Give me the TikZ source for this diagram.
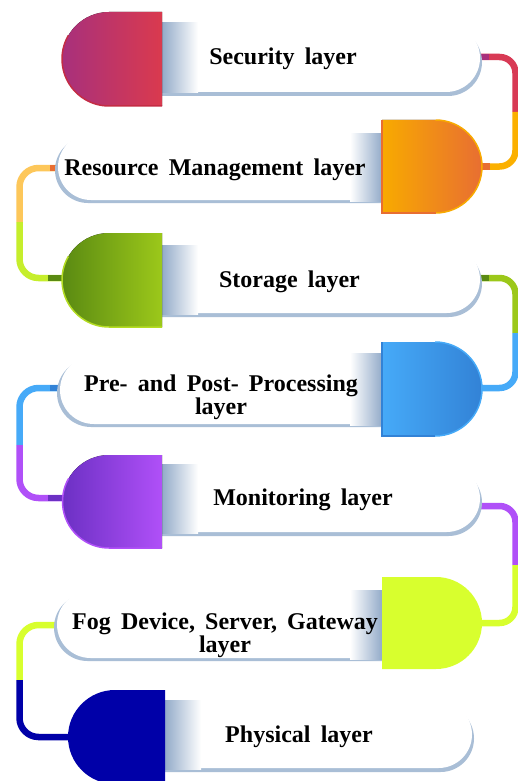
\documentclass[tikz,border=0pt]{standalone}
\usepackage{fontspec}
\setmainfont{Liberation Serif}[WordSpace=1.7]
\usepackage{tikz}

\definecolor{bandblue}{HTML}{93ABC9}
\definecolor{shadowblue}{HTML}{A9BED6}
\definecolor{secA}{HTML}{A8307C}
\definecolor{secB}{HTML}{DA3A4E}
\definecolor{secRim}{HTML}{C42C44}
\definecolor{secWire}{HTML}{D83A55}
\definecolor{resA}{HTML}{F8AA00}
\definecolor{resB}{HTML}{E86E32}
\definecolor{resWire}{HTML}{FBB000}
\definecolor{resLight}{HTML}{FDC75A}
\definecolor{stoA}{HTML}{5A8A12}
\definecolor{stoB}{HTML}{9CC81A}
\definecolor{stoRim}{HTML}{B4DC22}
\definecolor{stoWire}{HTML}{C6EE2C}
\definecolor{preA}{HTML}{46AAF8}
\definecolor{preB}{HTML}{3282D6}
\definecolor{monA}{HTML}{6C30C4}
\definecolor{monB}{HTML}{B050F8}
\definecolor{fogY}{HTML}{D8FF2E}
\definecolor{phyN}{HTML}{0000A8}

\tikzset{
  wire/.style={line width=6.5pt},
  rim/.style={line width=1.5pt},
  layertext/.style={font=\bfseries\fontsize{24}{20}\selectfont, inner sep=0pt, align=center},
}

\begin{document}
\begin{tikzpicture}[x=1pt,y=1pt]
    \useasboundingbox (0,0) rectangle (518,-781);
    \fill[white] (0,0) rectangle (518,-781);

    % ends of the pills and the caps
    \coordinate (sec-out) at (481,-57);
    \coordinate (res-in) at (482,-166.5);
    \coordinate (r12) at (515.5,-112);
    \coordinate (res-out) at (58,-168);
    \coordinate (sto-in) at (62,-278);
    \coordinate (l23) at (19.5,-222);
    \coordinate (sto-out) at (481,-278);
    \coordinate (pre-in) at (482,-388);
    \coordinate (r34) at (515.5,-333);
    \coordinate (pre-out) at (60,-388);
    \coordinate (mon-in) at (62,-498);
    \coordinate (l45) at (19.5,-445);
    \coordinate (mon-out) at (480,-506);
    \coordinate (fog-in) at (482,-623);
    \coordinate (r56) at (515.5,-565);
    \coordinate (fog-out) at (56,-625);
    \coordinate (phy-in) at (68,-737);
    \coordinate (l67) at (19.5,-680);

    % links between the layers
    \draw[wire, secWire, rounded corners=16] (sec-out) -| (r12);
    \draw[wire, resWire, rounded corners=16] (r12) |- (res-in);
    \draw[wire, secA] (sec-out) -- +(8,0);
    \draw[wire, resB] (res-in) -- +(8,0);
    \draw[wire, resLight, rounded corners=19] (res-out) -| (l23);
    \draw[wire, stoWire, rounded corners=19] (l23) |- (sto-in);
    \draw[wire, resB] (res-out) -- +(-8,0);
    \draw[wire, stoA] (sto-in) -- +(-14,0);
    \draw[wire, stoB, rounded corners=16] (sto-out) -| (r34);
    \draw[wire, preA, rounded corners=16] (r34) |- (pre-in);
    \draw[wire, stoA] (sto-out) -- +(8,0);
    \draw[wire, preA, rounded corners=19] (pre-out) -| (l45);
    \draw[wire, monB, rounded corners=19] (l45) |- (mon-in);
    \draw[wire, preB] (pre-out) -- +(-10,0);
    \draw[wire, monA] (mon-in) -- +(-14,0);
    \draw[wire, monB, rounded corners=16] (mon-out) -| (r56);
    \draw[wire, fogY, rounded corners=16] (r56) |- (fog-in);
    \draw[wire, fogY, rounded corners=19] (fog-out) -| (l67);
    \draw[wire, phyN, rounded corners=19] (l67) |- (phy-in);

    % security layer
    \fill[shadowblue] (152,-28) -- (448,-28) arc[start angle=90,end angle=-90,radius=34] -- (152,-96) -- cycle;
    \fill[white] (150,-24) -- (446,-24) arc[start angle=90,end angle=-90,radius=34] -- (150,-92) -- cycle;
    \shade[left color=bandblue, right color=white] (162,-23) rectangle (198,-93);
    \fill[left color=secA, right color=secB] (162,-12) -- (109,-12) arc[start angle=90,end angle=270,radius=47] -- (162,-106) -- cycle;
    \draw[rim, secRim] (109,-59) ++(150:47) arc[start angle=150,end angle=270,radius=47] -- (162,-106);
    \node[layertext, anchor=base] (sec) at (283,-65) {Security layer};

    % resource management layer
    \fill[shadowblue] (391,-137) -- (88,-137) arc[start angle=90,end angle=270,radius=33] -- (391,-203) -- cycle;
    \fill[white] (394,-134) -- (91,-134) arc[start angle=90,end angle=270,radius=33] -- (394,-200) -- cycle;
    \shade[left color=white, right color=bandblue] (350,-133) rectangle (382,-201);
    \fill[left color=resA, right color=resB] (382,-120) -- (435.5,-120) arc[start angle=90,end angle=-90,radius=46.5] -- (382,-213) -- cycle;
    \draw[rim, resA] (435.5,-120) arc[start angle=90,end angle=-90,radius=46.5];
    \draw[rim, resB] (382,-120) -- (382,-213) -- (435.5,-213);
    \node[layertext, anchor=base] (res) at (215,-175) {Resource Management layer};

    % storage layer
    \fill[shadowblue] (152,-250) -- (448.5,-250) arc[start angle=90,end angle=-90,radius=33.5] -- (152,-317) -- cycle;
    \fill[white] (150,-246) -- (446.5,-246) arc[start angle=90,end angle=-90,radius=33.5] -- (150,-313) -- cycle;
    \shade[left color=bandblue, right color=white] (162,-245) rectangle (198,-314);
    \fill[left color=stoA, right color=stoB] (162,-233) -- (109,-233) arc[start angle=90,end angle=270,radius=47] -- (162,-327) -- cycle;
    \draw[rim, stoRim] (109,-280) ++(150:47) arc[start angle=150,end angle=270,radius=47] -- (162,-327);
    \node[layertext, anchor=base] (sto) at (289.5,-287) {Storage layer};

    % pre- and post-processing layer
    \fill[shadowblue] (391,-359) -- (91,-359) arc[start angle=90,end angle=270,radius=34] -- (391,-427) -- cycle;
    \fill[white] (394,-356) -- (94,-356) arc[start angle=90,end angle=270,radius=34] -- (394,-424) -- cycle;
    \shade[left color=white, right color=bandblue] (350,-353) rectangle (382,-425);
    \fill[left color=preA, right color=preB] (382,-342) -- (435,-342) arc[start angle=90,end angle=-90,radius=47] -- (382,-436) -- cycle;
    \draw[rim, preA] (435,-342) arc[start angle=90,end angle=-90,radius=47];
    \draw[rim, preB] (382,-342) -- (382,-436) -- (435,-436);
    \node[layertext] (pre) at (221,-397.5) {Pre- and Post- Processing\\layer};

    % monitoring layer
    \fill[shadowblue] (152,-469) -- (448.5,-469) arc[start angle=90,end angle=-90,radius=33.5] -- (152,-536) -- cycle;
    \fill[white] (150,-465) -- (446.5,-465) arc[start angle=90,end angle=-90,radius=33.5] -- (150,-532) -- cycle;
    \shade[left color=bandblue, right color=white] (162,-464) rectangle (198,-533);
    \fill[left color=monA, right color=monB] (162,-455) -- (109,-455) arc[start angle=90,end angle=270,radius=46.5] -- (162,-548) -- cycle;
    \draw[rim, monB] (109,-501.5) ++(150:46.5) arc[start angle=150,end angle=270,radius=46.5] -- (162,-548);
    \node[layertext, anchor=base] (mon) at (303,-505) {Monitoring layer};

    % fog device, server, gateway layer
    \fill[shadowblue] (391,-594) -- (87.5,-594) arc[start angle=90,end angle=270,radius=33.5] -- (391,-661) -- cycle;
    \fill[white] (394,-591) -- (90.5,-591) arc[start angle=90,end angle=270,radius=33.5] -- (394,-658) -- cycle;
    \shade[left color=white, right color=bandblue] (350,-590) rectangle (382,-659);
    \fill[fogY] (382,-577) -- (436,-577) arc[start angle=90,end angle=-90,radius=46] -- (382,-669) -- cycle;
    \node[layertext, font=\bfseries\fontsize{24}{23}\selectfont] (fog) at (225,-635) {Fog Device, Server, Gateway\\layer};

    % physical layer
    \fill[shadowblue] (152,-705) -- (440.5,-705) arc[start angle=90,end angle=-90,radius=33.5] -- (152,-772) -- cycle;
    \fill[white] (150,-701) -- (438.5,-701) arc[start angle=90,end angle=-90,radius=33.5] -- (150,-768) -- cycle;
    \shade[left color=bandblue, right color=white] (165,-700) rectangle (201,-769);
    \fill[phyN] (165,-690) -- (115,-690) arc[start angle=90,end angle=270,radius=47] -- (165,-784) -- cycle;
    \node[layertext, anchor=base] (phy) at (299,-742) {Physical layer};
\end{tikzpicture}
\end{document}
